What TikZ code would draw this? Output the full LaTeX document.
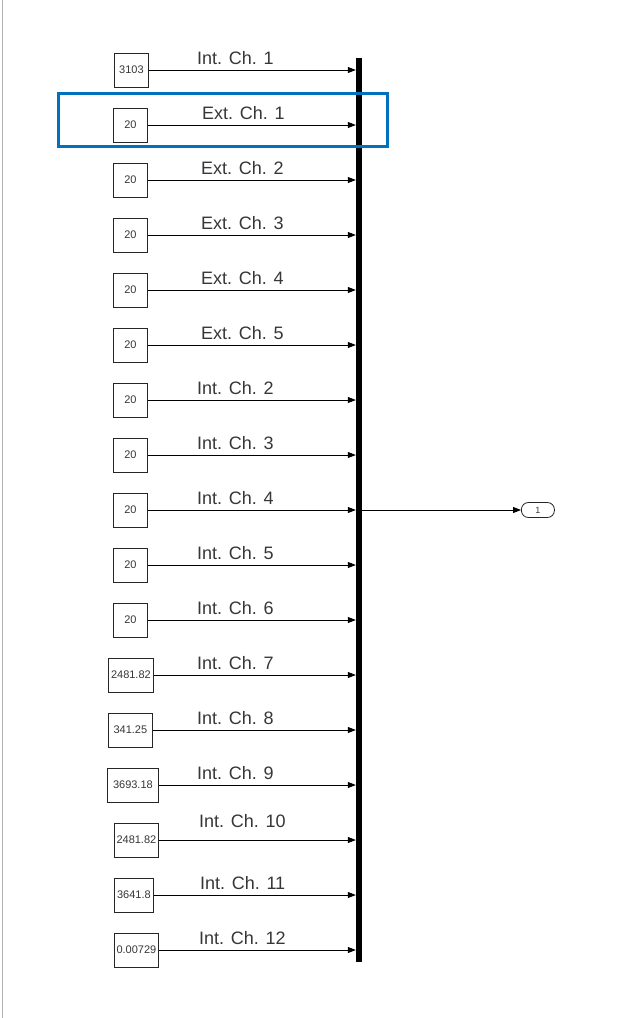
\documentclass[tikz,border=0pt]{standalone}
\usepackage{fontspec}
\setmainfont{Liberation Sans}
\usetikzlibrary{arrows.meta,shadows}
\definecolor{hlblue}{RGB}{0,114,189}
\definecolor{txtgray}{RGB}{55,55,55}
\begin{document}
\begin{tikzpicture}[x=1pt,y=-1pt,
  blk/.style={draw=black!85, line width=0.8pt, fill=white, minimum height=34pt, inner sep=0pt, anchor=west,
    font=\fontsize{11}{12}\selectfont, text=txtgray,
    drop shadow={shadow xshift=1pt, shadow yshift=-1pt, fill=black!45, opacity=1}},
  lbl/.style={anchor=base west, inner sep=0pt, font=\fontsize{18}{20}\selectfont, text=txtgray},
  sig/.style={line width=0.8pt, -{Triangle[length=8pt,width=6pt]}}
]
\useasboundingbox (0,0) rectangle (619,1018);
\fill[white] (0,0) rectangle (619,1018);
\draw[black!30, line width=1pt] (2.5,0) -- (2.5,1018);

% bus bar
\node[fill=black, minimum width=6pt, minimum height=904pt, inner sep=0pt] (bar) at (359,510) {};

% source blocks
\node[blk, minimum width=34pt] (b1)  at (114,70)  {3103};
\node[blk, minimum width=34pt] (b2)  at (113,125) {20};
\node[blk, minimum width=34pt] (b3)  at (113,180) {20};
\node[blk, minimum width=34pt] (b4)  at (113,235) {20};
\node[blk, minimum width=34pt] (b5)  at (113,290) {20};
\node[blk, minimum width=34pt] (b6)  at (113,345) {20};
\node[blk, minimum width=34pt] (b7)  at (113,400) {20};
\node[blk, minimum width=34pt] (b8)  at (113,455) {20};
\node[blk, minimum width=34pt] (b9)  at (113,510) {20};
\node[blk, minimum width=34pt] (b10) at (113,565) {20};
\node[blk, minimum width=34pt] (b11) at (113,620) {20};
\node[blk, minimum width=45pt] (b12) at (108,675) {2481.82};
\node[blk, minimum width=44pt] (b13) at (108,730) {341.25};
\node[blk, minimum width=51pt] (b14) at (107,785) {3693.18};
\node[blk, minimum width=44pt] (b15) at (114,840) {2481.82};
\node[blk, minimum width=39pt] (b16) at (114,895) {3641.8};
\node[blk, minimum width=44pt] (b17) at (114,950) {0.00729};

% signal lines
\foreach \i in {1,...,17}{
  \draw[sig] (b\i.east) -- (b\i.east -| bar.west);
}

% labels
\node[lbl] (l1)  at (197,64)  {Int. Ch. 1};
\node[lbl] (l2)  at (202,119) {Ext. Ch. 1};
\node[lbl] (l3)  at (201,174) {Ext. Ch. 2};
\node[lbl] (l4)  at (201,229) {Ext. Ch. 3};
\node[lbl] (l5)  at (201,284) {Ext. Ch. 4};
\node[lbl] (l6)  at (201,339) {Ext. Ch. 5};
\node[lbl] (l7)  at (197,394) {Int. Ch. 2};
\node[lbl] (l8)  at (197,449) {Int. Ch. 3};
\node[lbl] (l9)  at (197,504) {Int. Ch. 4};
\node[lbl] (l10) at (197,559) {Int. Ch. 5};
\node[lbl] (l11) at (197,614) {Int. Ch. 6};
\node[lbl] (l12) at (197,669) {Int. Ch. 7};
\node[lbl] (l13) at (197,724) {Int. Ch. 8};
\node[lbl] (l14) at (197,779) {Int. Ch. 9};
\node[lbl] (l15) at (199,827) {Int. Ch. 10};
\node[lbl] (l16) at (200,889) {Int. Ch. 11};
\node[lbl] (l17) at (199,944) {Int. Ch. 12};

% outport
\node[draw=black!85, line width=0.8pt, rounded corners=7pt, minimum width=33pt, minimum height=15pt, inner sep=0pt,
  font=\fontsize{9}{10}\selectfont, text=txtgray, anchor=west] (out) at (521,510) {1};
\draw[sig] (bar.east |- out.west) -- (out.west);

% highlight
\draw[hlblue, line width=3pt] (58.5,93.5) rectangle (387.5,146.5);
\end{tikzpicture}
\end{document}
